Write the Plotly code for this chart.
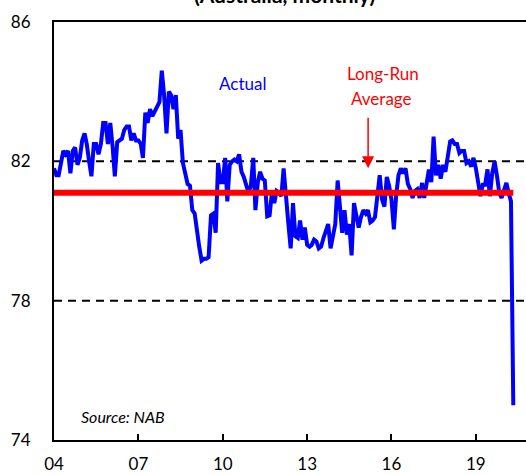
import pandas as pd
import plotly.graph_objects as go

# Monthly capacity utilisation (%), Jan 2004 onward
start_month = "2004-01-01"
actual = [
    81.8, 81.6, 81.6, 81.9, 82.3, 82.2, 82.3, 81.66, 82.3, 82.4, 81.9, 82.1,
    82.6, 82.8, 82.5, 82.0, 81.57, 82.5, 82.5, 82.2, 82.5, 83.1, 83.1, 82.5,
    83.1, 82.4, 81.57, 82.55, 82.6, 82.65, 82.9, 83.0, 83.0, 82.6, 82.8, 82.6,
    82.6, 82.5, 82.1, 83.4, 83.1, 83.5, 83.3, 83.45, 83.6, 83.7, 84.6, 83.9,
    82.8, 84.0, 83.9, 83.5, 83.9, 82.65, 82.9, 81.95, 81.65, 81.35, 81.3, 80.6,
    80.5, 79.95, 79.55, 79.15, 79.2, 79.2, 79.25, 80.45, 80.5, 79.95, 81.95, 81.4,
    81.4, 82.1, 80.85, 81.9, 82.0, 82.05, 82.0, 82.2, 81.7, 81.55, 81.35, 81.1,
    81.3, 82.1, 80.6, 81.4, 81.7, 81.5, 81.45, 80.42, 80.45, 81.1, 80.8, 81.15,
    81.1, 81.0, 81.8, 80.8, 80.23, 79.5, 80.8, 79.85, 79.8, 80.3, 79.75, 80.1,
    79.6, 79.55, 79.6, 79.75, 79.7, 79.5, 79.55, 79.8, 80.0, 80.2, 79.5, 79.8,
    80.2, 81.45, 80.8, 79.95, 80.6, 79.9, 80.2, 79.3, 80.8, 80.5, 80.1, 80.4,
    80.6, 80.5, 80.6, 80.25, 80.3, 80.4, 80.9, 81.6, 80.9, 80.7, 81.55, 81.3,
    80.9, 80.05, 81.0, 81.6, 81.8, 81.65, 81.8, 81.35, 81.2, 80.95, 81.15, 81.2,
    80.95, 81.38, 80.95, 81.4, 81.76, 81.4, 82.71, 81.6, 81.9, 81.5, 81.9, 81.7,
    82.24, 82.57, 82.6, 82.5, 82.5, 82.24, 82.3, 82.3, 81.95, 82.0, 81.85, 82.1,
    81.8, 81.38, 81.0, 81.33, 81.33, 81.77, 81.0, 81.65, 82.0, 81.6, 81.1, 80.95,
    81.15, 81.38, 81.1, 80.85, 75.0,
]
long_run_average = 81.1
tick_dates = ["2004-01-01", "2007-01-01", "2010-01-01", "2013-01-01", "2016-01-01", "2019-01-01"]
tick_labels = ["04", "07", "10", "13", "16", "19"]
y_ticks = [74, 78, 82, 86]
grid_levels = [78, 82]

dates = pd.date_range(start_month, periods=len(actual), freq="MS")

FONT = "Lato"

fig = go.Figure()
fig.add_trace(go.Scatter(
    x=dates, y=actual, mode="lines",
    line=dict(color="#0000FF", width=4), showlegend=False, hoverinfo="skip",
))
fig.add_trace(go.Scatter(
    x=[dates[0], dates[-1]], y=[long_run_average, long_run_average], mode="lines",
    line=dict(color="#FF0000", width=6), showlegend=False, hoverinfo="skip",
))

for lvl in grid_levels:
    fig.add_shape(type="line", xref="paper", x0=0, x1=1, yref="y", y0=lvl, y1=lvl,
                  line=dict(color="black", width=2, dash="8px,6px"), layer="below")

fig.update_layout(
    width=526, height=475,
    margin=dict(l=54, r=0, t=22, b=35),
    paper_bgcolor="white", plot_bgcolor="white",
    font=dict(family=FONT, size=17, color="black"),
    xaxis=dict(
        type="date", range=["2004-01-01", "2020-10-13"],
        tickvals=tick_dates, ticktext=tick_labels,
        ticks="inside", ticklen=6, tickwidth=2, tickcolor="black",
        showline=True, linecolor="black", linewidth=2, mirror=True,
        showgrid=False, zeroline=False, automargin=False,
        ticklabelstandoff=8,
    ),
    yaxis=dict(
        range=[74, 86], tickvals=y_ticks,
        ticks="outside", ticklen=18, tickcolor="rgba(0,0,0,0)",
        showline=True, linecolor="black", linewidth=2,
        showgrid=False, zeroline=False, automargin=False,
    ),
    annotations=[
        dict(text="<b>(Australia, monthly)</b>", xref="paper", yref="paper",
             x=0.488, y=1.031, xanchor="center", yanchor="bottom",
             showarrow=False, font=dict(size=21, color="black")),
        dict(text="Actual", xref="paper", yref="paper", x=0.40, y=0.854,
             xanchor="center", yanchor="middle", showarrow=False,
             font=dict(size=17, color="#0000FF")),
        dict(text="Long-Run", xref="paper", yref="paper", x=0.697, y=0.876,
             xanchor="center", yanchor="middle", showarrow=False,
             font=dict(size=17, color="#FF0000")),
        dict(text="Average", xref="paper", yref="paper", x=0.693, y=0.817,
             xanchor="center", yanchor="middle", showarrow=False,
             font=dict(size=17, color="#FF0000")),
        dict(text="", xref="paper", yref="paper", x=0.6655, y=0.650,
             showarrow=True, ax=0, ay=-52, arrowhead=2, arrowsize=1.6,
             arrowwidth=1.5, arrowcolor="#FF0000"),
        dict(text="<i>Source: NAB</i>", xref="paper", yref="paper", x=0.146, y=0.056,
             xanchor="center", yanchor="middle", showarrow=False,
             font=dict(size=16, color="black")),
    ],
)

# remove the browser's default 8px body margin so the figure fills the window
fig.write_html("out.html", config={"displayModeBar": False},
               post_script="document.body.style.margin='0';")
